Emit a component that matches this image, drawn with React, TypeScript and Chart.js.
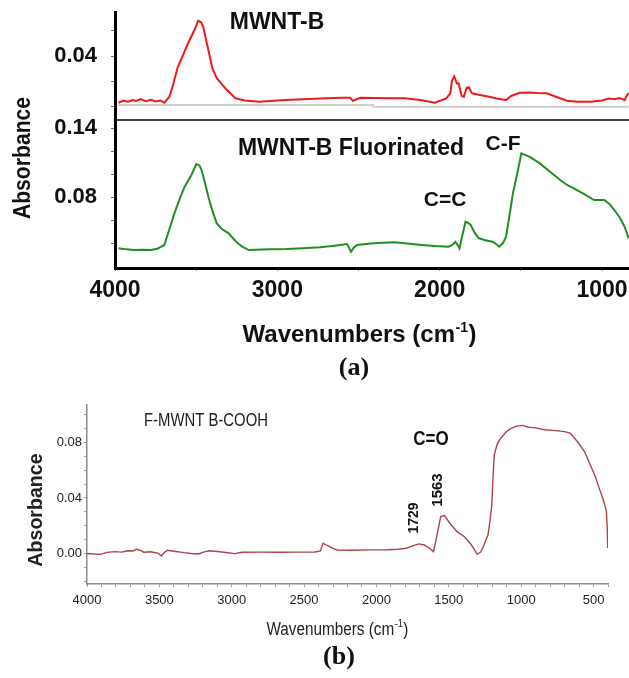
import React, { useEffect, useRef } from 'react';
import { Chart, registerables } from 'chart.js';

Chart.register(...registerables);

// ---------- Panel (a), upper: MWNT-B ----------
const redWavenumbers = [
  3978, 3950, 3920, 3890, 3870, 3842, 3810, 3780, 3750, 3720, 3696, 3665, 3640, 3613, 3580, 3550,
  3510, 3488, 3470, 3457, 3425, 3400, 3373, 3321, 3258, 3200, 3112, 3000, 2920, 2842, 2700, 2600,
  2550, 2535, 2518, 2487, 2400, 2300, 2216, 2120, 2029, 1960, 1935, 1925, 1910, 1895, 1883, 1865,
  1851, 1835, 1820, 1808, 1800, 1760, 1720, 1695, 1650, 1591, 1560, 1508, 1450, 1400, 1341, 1280,
  1216, 1150, 1070, 1000, 960, 924, 890, 861, 845, 836,
];
const redAbsorbance = [
  0.0213, 0.0222, 0.0217, 0.0224, 0.022, 0.0228, 0.0219, 0.0225, 0.0218, 0.0222, 0.0213, 0.0237,
  0.029, 0.0357, 0.0405, 0.0451, 0.0505, 0.0541, 0.0535, 0.0517, 0.0424, 0.035, 0.0311, 0.0271,
  0.0231, 0.0222, 0.0217, 0.0222, 0.0225, 0.0227, 0.0231, 0.0233, 0.0233, 0.022, 0.0226, 0.0233,
  0.0232, 0.0231, 0.0231, 0.0224, 0.0213, 0.023, 0.025, 0.03, 0.0318, 0.029, 0.0291, 0.024,
  0.0237, 0.0272, 0.0275, 0.0258, 0.0251, 0.0245, 0.024, 0.0237, 0.023, 0.0224, 0.024, 0.0253,
  0.0254, 0.0252, 0.0251, 0.0236, 0.0221, 0.0217, 0.0217, 0.0222, 0.023, 0.0227, 0.0232, 0.0223,
  0.0245, 0.0251,
];
const baselineWavenumbers = [3980, 2410, 2410, 836];
const baselineAbsorbance = [0.0204, 0.0204, 0.0197, 0.0197];

// ---------- Panel (a), lower: MWNT-B Fluorinated ----------
const greenWavenumbers = [
  3978, 3930, 3884, 3830, 3779, 3740, 3696, 3665, 3634, 3600, 3571, 3530, 3499, 3480, 3467, 3445,
  3425, 3400, 3373, 3340, 3300, 3260, 3217, 3175, 3050, 2946, 2840, 2737, 2650, 2571, 2546, 2530,
  2508, 2425, 2350, 2279, 2200, 2112, 2030, 1945, 1920, 1904, 1890, 1878, 1860, 1841, 1825, 1809,
  1785, 1758, 1720, 1675, 1650, 1633, 1610, 1591, 1570, 1549, 1520, 1497, 1470, 1445, 1383, 1320,
  1258, 1215, 1174, 1110, 1049, 986, 955, 924, 890, 861, 836,
];
const greenAbsorbance = [
  0.0354, 0.0345, 0.0339, 0.0342, 0.0339, 0.035, 0.0383, 0.052, 0.0658, 0.079, 0.089, 0.099,
  0.1087, 0.1075, 0.1035, 0.092, 0.0803, 0.068, 0.0571, 0.052, 0.0484, 0.042, 0.0368, 0.0339,
  0.0345, 0.0348, 0.0355, 0.0363, 0.0377, 0.0391, 0.0324, 0.036, 0.0383, 0.0397, 0.0403, 0.0406,
  0.0397, 0.0383, 0.0374, 0.0368, 0.0385, 0.0411, 0.0385, 0.0354, 0.047, 0.0585, 0.0575, 0.0557,
  0.049, 0.0441, 0.0425, 0.0411, 0.039, 0.0368, 0.04, 0.0455, 0.064, 0.0832, 0.102, 0.118,
  0.1165, 0.115, 0.1093, 0.102, 0.0948, 0.0905, 0.0876, 0.0825, 0.0774, 0.0774, 0.074, 0.0687,
  0.062, 0.0542, 0.044,
];

// ---------- Panel (b): F-MWNT B-COOH ----------
const coohWavenumbers = [
  4000, 3950, 3910, 3860, 3809, 3760, 3720, 3683, 3658, 3630, 3608, 3560, 3507, 3487, 3465, 3444,
  3400, 3331, 3280, 3230, 3190, 3154, 3100, 3054, 2979, 2928, 2800, 2676, 2550, 2425, 2387, 2369,
  2350, 2336, 2300, 2273, 2173, 2050, 1921, 1850, 1795, 1750, 1707, 1669, 1630, 1606, 1581, 1556,
  1530, 1493, 1443, 1392, 1350, 1329, 1304, 1280, 1266, 1229, 1215, 1203, 1192, 1186, 1165, 1140,
  1100, 1065, 1030, 990, 950, 900, 838, 760, 700, 662, 612, 560, 523, 490, 461, 430, 411, 405, 402,
];
const coohAbsorbance = [
  0.0, -0.0004, -0.0006, 0.0008, 0.0013, 0.001, 0.002, 0.0018, 0.003, 0.0022, 0.0009, 0.0012,
  0.0001, -0.0018, 0.0008, 0.0023, 0.0016, 0.0006, 0.0, -0.0004, 0.0012, 0.002, 0.0014, 0.0009,
  -0.0001, 0.0009, 0.001, 0.0009, 0.001, 0.0011, 0.0018, 0.0074, 0.0062, 0.0056, 0.0036, 0.0025,
  0.0023, 0.0026, 0.0027, 0.003, 0.0038, 0.0055, 0.0069, 0.0061, 0.0035, 0.0013, 0.0134, 0.0266,
  0.0273, 0.0218, 0.0157, 0.0121, 0.007, 0.0038, -0.0006, 0.001, 0.0038, 0.0134, 0.024, 0.035,
  0.06, 0.0711, 0.079, 0.0832, 0.088, 0.0904, 0.0918, 0.0923, 0.091, 0.0905, 0.0892, 0.0885,
  0.0878, 0.0868, 0.0807, 0.073, 0.0639, 0.056, 0.0471, 0.038, 0.0302, 0.018, 0.004,
];

// ---------- Ticks and tick labels ----------
const aXTicks = [1000, 1500, 2000, 2500, 3000, 3500, 4000];
const aXTickLabels = ['1000', '2000', '3000', '4000'];
const aTopTicks = [0.02, 0.03, 0.04, 0.05];
const aTopTickLabels = ['0.04'];
const aBottomTicks = [0.04, 0.06, 0.08, 0.1, 0.12, 0.14];
const aBottomTickLabels = ['0.14', '0.08'];
const bXTickLabels = ['500', '1000', '1500', '2000', '2500', '3000', '3500', '4000'];
const bYTickLabels = ['0.00', '0.04', '0.08'];

const SANS = "'Liberation Sans', Arial, Helvetica, sans-serif";
const SERIF = "'Liberation Serif', 'Times New Roman', serif";

const pts = (xs: number[], ys: number[]) => xs.map((x, i) => ({ x, y: ys[i] }));

const fmt2 = (v: any) => {
  const n = Number(v);
  return (Math.abs(n) < 1e-9 ? 0 : n).toFixed(2);
};

function drawText(
  ctx: CanvasRenderingContext2D,
  text: string,
  x: number,
  y: number,
  font: string,
  opts: { rot?: number; sx?: number; color?: string; align?: CanvasTextAlign; baseline?: CanvasTextBaseline } = {}
) {
  ctx.save();
  ctx.translate(x, y);
  if (opts.rot) ctx.rotate(opts.rot);
  ctx.scale(opts.sx ?? 1, 1);
  ctx.font = font;
  ctx.fillStyle = opts.color ?? '#111';
  ctx.textAlign = opts.align ?? 'center';
  ctx.textBaseline = opts.baseline ?? 'middle';
  ctx.fillText(text, 0, 0);
  ctx.restore();
}

function drawWavenumbers(
  ctx: CanvasRenderingContext2D,
  cx: number,
  baseY: number,
  size: number,
  weight: string,
  sx: number,
  color: string
) {
  const main = 'Wavenumbers (cm';
  const sup = '-1';
  const close = ')';
  ctx.save();
  ctx.font = `${weight} ${size}px ${SANS}`;
  const w1 = ctx.measureText(main).width;
  const w3 = ctx.measureText(close).width;
  ctx.font = `${weight} ${Math.round(size * 0.6)}px ${SANS}`;
  const w2 = ctx.measureText(sup).width;
  const total = (w1 + w2 + w3) * sx;
  ctx.translate(cx - total / 2, baseY);
  ctx.scale(sx, 1);
  ctx.fillStyle = color;
  ctx.textAlign = 'left';
  ctx.textBaseline = 'alphabetic';
  ctx.font = `${weight} ${size}px ${SANS}`;
  ctx.fillText(main, 0, 0);
  ctx.fillText(close, w1 + w2 + 1, 0);
  ctx.font = `${weight} ${Math.round(size * 0.6)}px ${SANS}`;
  ctx.fillText(sup, w1 + 0.5, -size * 0.42);
  ctx.restore();
}

const textPluginA = {
  id: 'textA',
  afterDraw(chart: any) {
    const ctx: CanvasRenderingContext2D = chart.ctx;
    const { left, right } = chart.chartArea;
    const yTop = chart.scales.yTop;
    const xs = chart.scales.x;
    ctx.save();
    ctx.strokeStyle = '#000';
    ctx.lineWidth = 1.6;
    ctx.beginPath();
    ctx.moveTo(left, yTop.bottom);
    ctx.lineTo(right, yTop.bottom);
    ctx.stroke();
    ctx.restore();

    drawText(ctx, 'MWNT-B', 277, 23, `bold 23px ${SANS}`);
    drawText(ctx, 'MWNT-B Fluorinated', 351, 149, `bold 23px ${SANS}`);
    drawText(ctx, 'C-F', xs.getPixelForValue(1610), 144, `bold 21px ${SANS}`);
    drawText(ctx, 'C=C', xs.getPixelForValue(1967), 200, `bold 21px ${SANS}`);
    drawText(ctx, 'Absorbance', 23, 158, `bold 24px ${SANS}`, { rot: -Math.PI / 2, sx: 0.88 });
    drawWavenumbers(ctx, 359, 342, 24, 'bold', 1, '#111');
    drawText(ctx, '(a)', 354, 368, `bold 26px ${SERIF}`);
  },
};

const textPluginB = {
  id: 'textB',
  afterDraw(chart: any) {
    const ctx: CanvasRenderingContext2D = chart.ctx;
    const xs = chart.scales.x;
    drawText(ctx, 'Absorbance', 36, 120, `bold 20px ${SANS}`, { rot: -Math.PI / 2, sx: 0.98, color: '#222' });
    drawText(ctx, 'F-MWNT B-COOH', 206, 31, `17.5px ${SANS}`, { sx: 0.85, color: '#222' });
    drawText(ctx, 'C=O', 431, 49, `bold 20px ${SANS}`, { sx: 0.85, color: '#111' });
    drawText(ctx, '1729', xs.getPixelForValue(1729) - 2, 128, `bold 14px ${SANS}`, { rot: -Math.PI / 2, color: '#111' });
    drawText(ctx, '1563', xs.getPixelForValue(1563) - 2, 100, `bold 15px ${SANS}`, { rot: -Math.PI / 2, color: '#111' });
    drawWavenumbers(ctx, 337, 245, 18, 'normal', 0.85, '#222');
    drawText(ctx, '(b)', 339, 267, `bold 26px ${SERIF}`);
  },
};

const noVPad = (w: number) => (s: any) => {
  s.width = w;
  s.paddingTop = 0;
  s.paddingBottom = 0;
};
const noHPad = (h: number) => (s: any) => {
  s.height = h;
  s.paddingLeft = 0;
  s.paddingRight = 0;
};
const fixedTicks = (values: number[]) => (s: any) => {
  s.ticks = values.map((value) => ({ value }));
};

export default function App() {
  const refA = useRef<HTMLCanvasElement>(null);
  const refB = useRef<HTMLCanvasElement>(null);

  useEffect(() => {
    const chartA = new Chart(refA.current as HTMLCanvasElement, {
      type: 'line',
      data: {
        datasets: [
          {
            label: 'MWNT-B',
            data: pts(redWavenumbers, redAbsorbance),
            yAxisID: 'yTop',
            borderColor: '#f01a1a',
            borderWidth: 2,
            pointRadius: 0,
            tension: 0,
          },
          {
            label: 'baseline',
            data: pts(baselineWavenumbers, baselineAbsorbance),
            yAxisID: 'yTop',
            borderColor: '#cfcfc8',
            borderWidth: 2,
            pointRadius: 0,
            tension: 0,
          },
          {
            label: 'MWNT-B Fluorinated',
            data: pts(greenWavenumbers, greenAbsorbance),
            yAxisID: 'yBot',
            borderColor: '#1f8f1f',
            borderWidth: 2,
            pointRadius: 0,
            tension: 0,
          },
        ],
      },
      options: {
        animation: false,
        responsive: false,
        parsing: false as any,
        layout: { padding: { top: 12, right: 0, left: 0, bottom: 0 } },
        plugins: { legend: { display: false }, tooltip: { enabled: false } },
        scales: {
          x: {
            type: 'linear',
            position: 'bottom',
            reverse: true,
            min: 834,
            max: 4000,
            afterBuildTicks: fixedTicks(aXTicks),
            afterFit: noHPad(122),
            border: { display: true, color: '#000', width: 3 },
            grid: { display: true, drawOnChartArea: false, tickLength: 3, color: '#777', tickColor: '#777' },
            ticks: {
              autoSkip: false,
              maxRotation: 0,
              padding: 6,
              color: '#111',
              font: { family: SANS, size: 23, weight: 'bold' },
              callback: (v: any) => (aXTickLabels.includes(String(v)) ? String(v) : ''),
            },
          },
          yBot: {
            type: 'linear',
            position: 'left',
            stack: 'panelA',
            stackWeight: 148,
            min: 0.0183,
            max: 0.147,
            afterBuildTicks: fixedTicks(aBottomTicks),
            afterFit: noVPad(115),
            border: { display: true, color: '#000', width: 3 },
            grid: { display: true, drawOnChartArea: false, tickLength: 4, color: '#666', tickColor: '#666' },
            ticks: {
              autoSkip: false,
              padding: 14,
              color: '#111',
              font: { family: SANS, size: 22, weight: 'bold' },
              callback: (v: any) => (aBottomTickLabels.includes(fmt2(v)) ? fmt2(v) : ''),
            },
          },
          yTop: {
            type: 'linear',
            position: 'left',
            stack: 'panelA',
            stackWeight: 108,
            min: 0.0144,
            max: 0.0576,
            afterBuildTicks: fixedTicks(aTopTicks),
            afterFit: noVPad(115),
            border: { display: true, color: '#000', width: 3 },
            grid: { display: true, drawOnChartArea: false, tickLength: 4, color: '#666', tickColor: '#666' },
            ticks: {
              autoSkip: false,
              padding: 14,
              color: '#111',
              font: { family: SANS, size: 22, weight: 'bold' },
              callback: (v: any) => (aTopTickLabels.includes(fmt2(v)) ? fmt2(v) : ''),
            },
          },
        },
      } as any,
      plugins: [textPluginA],
    });

    const chartB = new Chart(refB.current as HTMLCanvasElement, {
      type: 'line',
      data: {
        datasets: [
          {
            label: 'F-MWNT B-COOH',
            data: pts(coohWavenumbers, coohAbsorbance),
            borderColor: '#b0404c',
            borderWidth: 1.4,
            pointRadius: 0,
            tension: 0,
          },
        ],
      },
      options: {
        animation: false,
        responsive: false,
        parsing: false as any,
        layout: { padding: { top: 15, right: 21, left: 0, bottom: 0 } },
        plugins: { legend: { display: false }, tooltip: { enabled: false } },
        scales: {
          x: {
            type: 'linear',
            position: 'bottom',
            reverse: true,
            min: 400,
            max: 4000,
            afterFit: noHPad(94),
            border: { display: true, color: '#8a8a8a', width: 1.5 },
            grid: { display: true, drawOnChartArea: false, tickLength: 3, color: '#999', tickColor: '#999' },
            ticks: {
              stepSize: 100,
              autoSkip: false,
              maxRotation: 0,
              includeBounds: false,
              padding: 6,
              color: '#222',
              font: { family: SANS, size: 13 },
              callback: (v: any) => (bXTickLabels.includes(String(v)) ? String(v) : ''),
            },
          },
          y: {
            type: 'linear',
            position: 'left',
            min: -0.022,
            max: 0.107,
            afterFit: noVPad(87),
            border: { display: true, color: '#8a8a8a', width: 1.5, dash: [2, 2] },
            grid: { display: true, drawOnChartArea: false, tickLength: 3, color: '#999', tickColor: '#999' },
            ticks: {
              stepSize: 0.01,
              autoSkip: false,
              includeBounds: false,
              padding: 2,
              color: '#222',
              font: { family: SANS, size: 13 },
              callback: (v: any) => (bYTickLabels.includes(fmt2(v)) ? fmt2(v) : ''),
            },
          },
        },
      } as any,
      plugins: [textPluginB],
    });

    return () => {
      chartA.destroy();
      chartB.destroy();
    };
  }, []);

  return (
    <div style={{ position: 'absolute', left: 0, top: 0, width: 629, height: 678, background: '#fff' }}>
      <canvas
        ref={refA}
        width={629}
        height={390}
        style={{ position: 'absolute', left: 0, top: 0, width: 629, height: 390 }}
      />
      <canvas
        ref={refB}
        width={629}
        height={288}
        style={{ position: 'absolute', left: 0, top: 390, width: 629, height: 288 }}
      />
    </div>
  );
}
